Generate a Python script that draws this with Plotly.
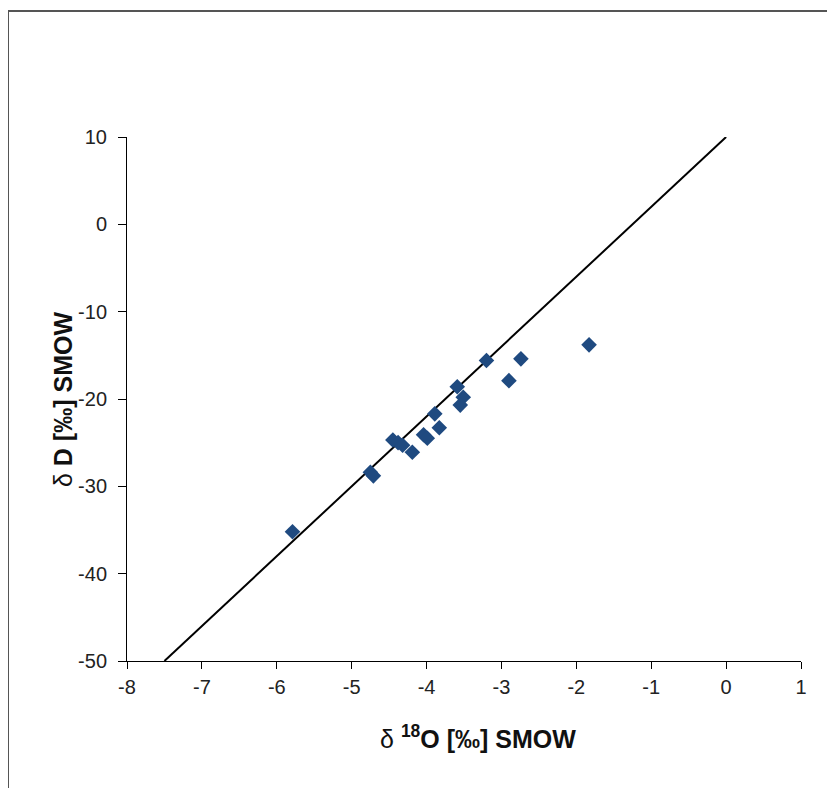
import plotly.graph_objects as go

# Sample data (δ18O, δD)
d18O = [-5.79, -4.75, -4.71, -4.45, -4.38, -4.32, -4.19, -4.04, -3.99, -3.83,
        -3.89, -3.59, -3.51, -3.55, -3.20, -2.74, -2.90, -1.83]
dD = [-35.2, -28.4, -28.8, -24.7, -25.0, -25.3, -26.1, -24.1, -24.5, -23.3,
      -21.7, -18.6, -19.8, -20.7, -15.6, -15.4, -17.9, -13.8]

# Global meteoric water line end points
line_x = [-7.5, 0]
line_y = [-50, 10]

x_ticks = [-8, -7, -6, -5, -4, -3, -2, -1, 0, 1]
x_labels = ["-8", "-7", "-6", "-5", "-4", "-3", "-2", "-1", "0", "1"]
y_ticks = [-50, -40, -30, -20, -10, 0, 10]
y_labels = ["-50", "-40", "-30", "-20", "-10", "0", "10"]

fig = go.Figure()
fig.add_trace(go.Scatter(x=line_x, y=line_y, mode="lines",
                         line=dict(color="black", width=2), showlegend=False,
                         hoverinfo="skip"))
fig.add_trace(go.Scatter(x=d18O, y=dD, mode="markers",
                         marker=dict(symbol="diamond", size=12, color="#1F4A80",
                                     line=dict(width=0)),
                         showlegend=False))

font = "Liberation Sans, Arial, sans-serif"
# plot area in page pixels: x 126..800, y 137..661 (page has 7/8 px offset)
L, R, T, B = 126, 800, 137, 661
W = R - L
H = B - T
fig.update_layout(
    width=835, height=788,
    margin=dict(l=119, r=42, t=129, b=135),
    paper_bgcolor="white", plot_bgcolor="white",
    font=dict(family=font, size=20, color="#222"),
    xaxis=dict(range=[-8, 1], tickvals=x_ticks, ticktext=x_labels,
               showgrid=False, zeroline=False,
               showline=True, linecolor="black", linewidth=1,
               ticks="outside", ticklen=7, tickcolor="black",
               ticklabelstandoff=1,
               tickfont=dict(size=20, family=font, color="#222")),
    yaxis=dict(range=[-50, 10], tickvals=y_ticks, ticktext=y_labels,
               showgrid=False, zeroline=False,
               showline=True, linecolor="black", linewidth=1,
               ticks="outside", ticklen=8, tickcolor="black",
               ticklabelstandoff=7,
               tickfont=dict(size=20, family=font, color="#222")),
    annotations=[
        dict(text="δ <b><sup>18</sup>O [‰] SMOW</b>", xref="paper", yref="paper",
             x=(477 - L) / W, y=(B - 737) / H, xanchor="center", yanchor="middle",
             showarrow=False, font=dict(size=25, color="#111", family=font)),
        dict(text="δ <b>D [‰] SMOW</b>", xref="paper", yref="paper",
             x=(62 - L) / W, y=(B - 400) / H, xanchor="center", yanchor="middle",
             textangle=-90, showarrow=False, font=dict(size=25, color="#111", family=font)),
    ],
    shapes=[
        dict(type="line", xref="paper", yref="paper",
             x0=(7 - L) / W, x1=(7 - L) / W,
             y0=(B - 11) / H, y1=(B - 820) / H,
             line=dict(color="#555", width=2)),
        dict(type="line", xref="paper", yref="paper",
             x0=(7 - L) / W, x1=(860 - L) / W,
             y0=(B - 11) / H, y1=(B - 11) / H,
             line=dict(color="#555", width=2)),
    ],
)

fig.write_html("out.html")
